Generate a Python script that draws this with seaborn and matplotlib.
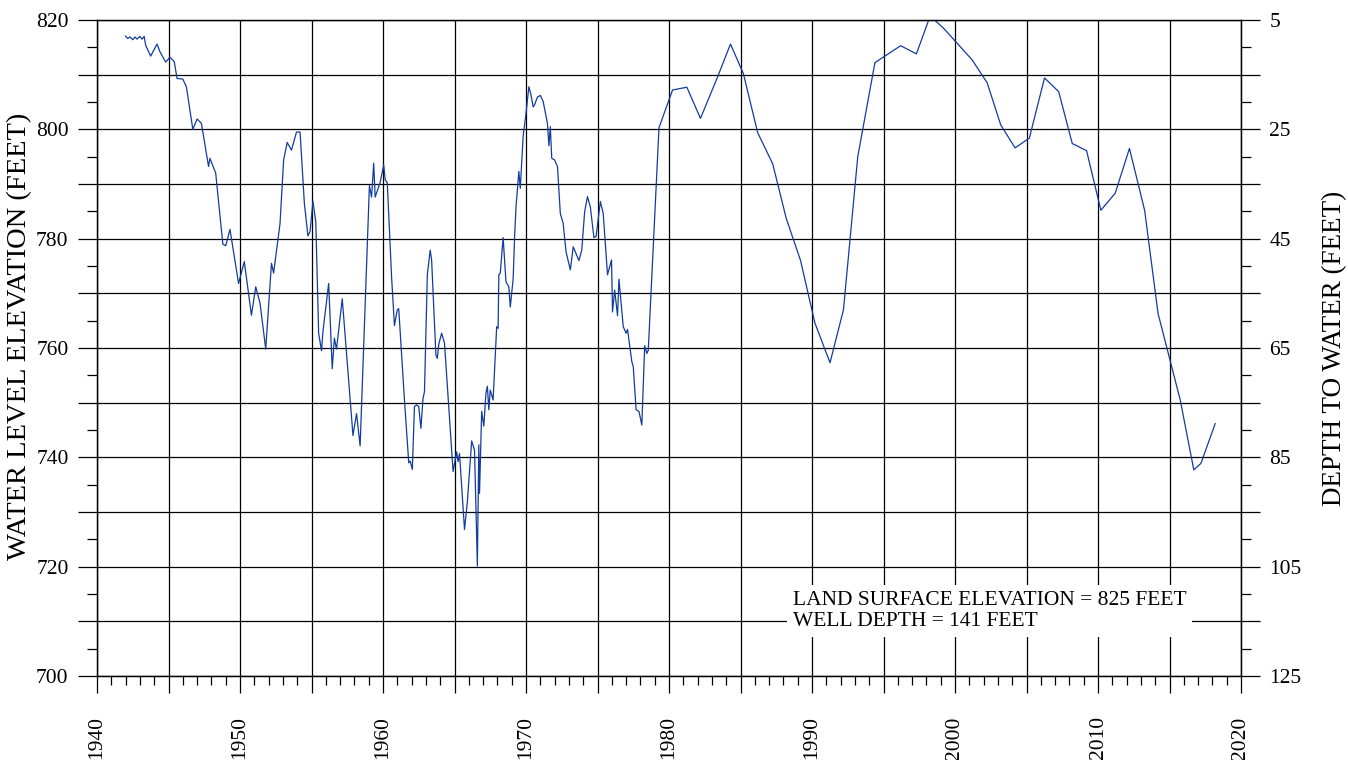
import matplotlib
matplotlib.use("Agg")
import matplotlib.pyplot as plt
from matplotlib.ticker import MultipleLocator, FixedLocator, FuncFormatter
import seaborn as sns

# water level record
year = [1941.98, 1942.15, 1942.3, 1942.5, 1942.65, 1942.8, 1943.0, 1943.15, 1943.3,
        1943.4, 1943.75, 1944.2, 1944.4, 1944.8, 1945.1, 1945.4, 1945.6, 1946.0,
        1946.25, 1946.7, 1947.0, 1947.3, 1947.8, 1947.9, 1948.3, 1948.8, 1949.0,
        1949.3, 1949.9, 1950.3, 1950.8, 1951.1, 1951.4, 1951.8, 1952.2, 1952.35,
        1952.8, 1953.05, 1953.3, 1953.6, 1953.95, 1954.2, 1954.5, 1954.75, 1954.9,
        1955.1, 1955.3, 1955.5, 1955.7, 1955.8, 1956.2, 1956.45, 1956.6, 1956.75,
        1957.15, 1957.9, 1958.15, 1958.4, 1959.05, 1959.2, 1959.35, 1959.45, 1959.8,
        1960.05, 1960.15, 1960.3, 1960.6, 1960.8, 1961.0, 1961.1, 1961.5, 1961.8,
        1961.9, 1962.05, 1962.2, 1962.35, 1962.5, 1962.65, 1962.8, 1962.9, 1963.1,
        1963.3, 1963.4, 1963.7, 1963.8, 1963.9, 1964.1, 1964.3, 1964.9, 1965.15,
        1965.25, 1965.35, 1965.7, 1965.9, 1966.2, 1966.4, 1966.6, 1966.7, 1966.75,
        1966.9, 1967.05, 1967.2, 1967.3, 1967.4, 1967.5, 1967.7, 1967.95, 1968.05,
        1968.1, 1968.2, 1968.4, 1968.6, 1968.8, 1968.9, 1969.1, 1969.2, 1969.3,
        1969.5, 1969.6, 1969.8, 1970.0, 1970.2, 1970.35, 1970.5, 1970.6, 1970.8,
        1971.0, 1971.2, 1971.5, 1971.6, 1971.7, 1971.8, 1972.0, 1972.2, 1972.4,
        1972.6, 1972.8, 1973.1, 1973.3, 1973.4, 1973.7, 1973.9, 1974.1, 1974.3,
        1974.5, 1974.75, 1974.9, 1975.2, 1975.4, 1975.7, 1975.98, 1976.05, 1976.2,
        1976.4, 1976.5, 1976.8, 1977.0, 1977.1, 1977.4, 1977.5, 1977.7, 1977.9,
        1978.1, 1978.3, 1978.45, 1978.55, 1979.3, 1980.25, 1981.25, 1982.2, 1983.4,
        1984.3, 1985.2, 1986.2, 1987.25, 1988.2, 1989.2, 1990.2, 1991.26, 1992.2,
        1993.2, 1994.4, 1996.2, 1997.3, 1998.26, 1999.2, 2001.2, 2002.25, 2003.2,
        2004.2, 2005.2, 2006.26, 2007.25, 2008.2, 2009.2, 2010.2, 2011.2, 2012.2,
        2013.26, 2014.2, 2015.75, 2016.7, 2017.2, 2018.2]
elev = [817.1, 816.6, 816.9, 816.4, 816.9, 816.5, 817.0, 816.5, 817.0,
        815.4, 813.4, 815.6, 814.2, 812.3, 813.2, 812.4, 809.3, 809.2,
        807.8, 800.0, 801.9, 801.1, 793.2, 794.7, 792.0, 779.0, 778.7,
        781.7, 771.8, 775.8, 766.0, 771.2, 768.2, 759.8, 775.5, 773.7,
        782.8, 794.4, 797.6, 796.2, 799.5, 799.5, 786.5, 780.5, 781.3,
        786.8, 783.1, 762.7, 759.5, 763.0, 771.8, 756.2, 761.8, 759.8,
        769.0, 744.0, 748.0, 742.1, 789.7, 787.6, 793.8, 787.6, 790.3,
        793.5, 790.8, 790.2, 773.0, 764.1, 767.0, 767.2, 750.5, 739.0,
        739.3, 737.8, 749.3, 749.6, 749.3, 745.3, 750.8, 752.0, 773.4,
        777.9, 776.1, 758.7, 758.1, 760.7, 762.7, 760.9, 737.4, 741.0,
        739.2, 740.7, 726.8, 731.9, 743.0, 741.3, 720.1, 742.3, 733.4,
        748.4, 745.7, 751.8, 753.0, 748.7, 752.3, 750.5, 763.9, 763.6,
        773.4, 773.7, 780.2, 772.1, 771.2, 767.5, 772.6, 780.1, 785.8,
        792.3, 789.2, 798.7, 802.9, 807.8, 806.3, 804.1, 804.5, 805.9,
        806.2, 805.1, 801.1, 797.0, 800.5, 794.7, 794.4, 793.2, 784.6,
        782.8, 777.6, 774.3, 778.5, 777.9, 776.0, 777.9, 784.9, 787.7,
        785.8, 780.2, 780.4, 786.8, 784.6, 773.4, 776.1, 766.6, 770.6,
        765.9, 772.6, 763.9, 762.7, 763.4, 757.5, 756.6, 748.7, 748.4,
        745.9, 760.4, 759.0, 759.6, 800.3, 807.2, 807.7, 802.0, 809.6,
        815.6, 810.2, 799.4, 793.7, 783.7, 776.0, 764.6, 757.3, 767.0,
        795.0, 812.2, 815.3, 813.8, 820.7, 818.5, 812.7, 808.5, 800.8,
        796.6, 798.4, 809.4, 806.9, 797.4, 796.1, 785.2, 788.3, 796.5,
        785.2, 766.3, 750.5, 737.7, 738.9, 746.2]

land_surface = 825
well_depth = 141
note_lines = ["LAND SURFACE ELEVATION = 825 FEET", "WELL DEPTH = 141 FEET"]

sns.set_style("white")
plt.rcParams["font.family"] = ["Liberation Serif", "DejaVu Serif"]
plt.rcParams["text.color"] = "black"
plt.rcParams["axes.labelcolor"] = "black"
plt.rcParams["xtick.color"] = "black"
plt.rcParams["ytick.color"] = "black"

fig = plt.figure(figsize=(13.48, 7.6), dpi=100)
ax = fig.add_axes([97 / 1348, 84 / 760, 1144 / 1348, 656 / 760])

sns.lineplot(x=year, y=elev, ax=ax, color="#123c9e", lw=0.9,
             estimator=None, sort=False, zorder=3)

ax.set_xlim(1940, 2020)
ax.set_ylim(700, 820)

ax.xaxis.set_major_locator(MultipleLocator(5))
ax.xaxis.set_minor_locator(MultipleLocator(1))
ax.xaxis.set_major_formatter(FuncFormatter(lambda v, p: str(int(round(v))) if round(v) % 10 == 0 else ""))
ax.yaxis.set_major_locator(MultipleLocator(10))
ax.yaxis.set_minor_locator(MultipleLocator(5))
ax.yaxis.set_major_formatter(FuncFormatter(lambda v, p: str(int(round(v))) if round(v) % 20 == 0 else ""))

ax.grid(True, which="major", color="black", lw=0.9)
ax.tick_params(axis="x", which="major", direction="out", length=12, width=0.9,
               pad=17, labelrotation=90, labelsize=15.5)
ax.tick_params(axis="x", which="minor", direction="out", length=6.5, width=0.9)
ax.tick_params(axis="y", which="major", direction="out", length=13.5, width=0.9,
               pad=7, labelsize=15.5)
ax.tick_params(axis="y", which="minor", direction="out", length=7, width=0.9)
ax.tick_params(left=True, bottom=True, which="both")
for s in ax.spines.values():
    s.set_color("black")
    s.set_linewidth(0.9)

# depth to water on the right
ax2 = ax.twinx()
ax2.set_ylim(land_surface - 700, land_surface - 820)
ax2.yaxis.set_major_locator(FixedLocator(list(range(5, 126, 10))))
ax2.yaxis.set_minor_locator(FixedLocator(list(range(10, 121, 10))))
ax2.yaxis.set_major_formatter(FuncFormatter(lambda v, p: str(int(round(v))) if (round(v) - 5) % 20 == 0 else ""))
ax2.tick_params(axis="y", which="major", direction="out", length=13.5, width=0.9,
                pad=7, labelsize=15.5, right=True)
ax2.tick_params(axis="y", which="minor", direction="out", length=7, width=0.9, right=True)
for s in ax2.spines.values():
    s.set_color("black")
    s.set_linewidth(0.9)

ax.set_xlabel("")
ax.set_ylabel("WATER LEVEL ELEVATION (FEET)", fontsize=20.5)
ax.yaxis.set_label_coords(-0.0565, 0.517)
ax2.set_ylabel("DEPTH TO WATER (FEET)", fontsize=19.5)
ax2.yaxis.set_label_coords(1.071, 0.5)

ax.text(1988.67, 711.9, "\n".join(note_lines), fontsize=15.5, ha="left", va="center",
        linespacing=1.15, zorder=5,
        bbox=dict(facecolor="white", edgecolor="none", pad=4))

fig.savefig("out.png", dpi=100)
